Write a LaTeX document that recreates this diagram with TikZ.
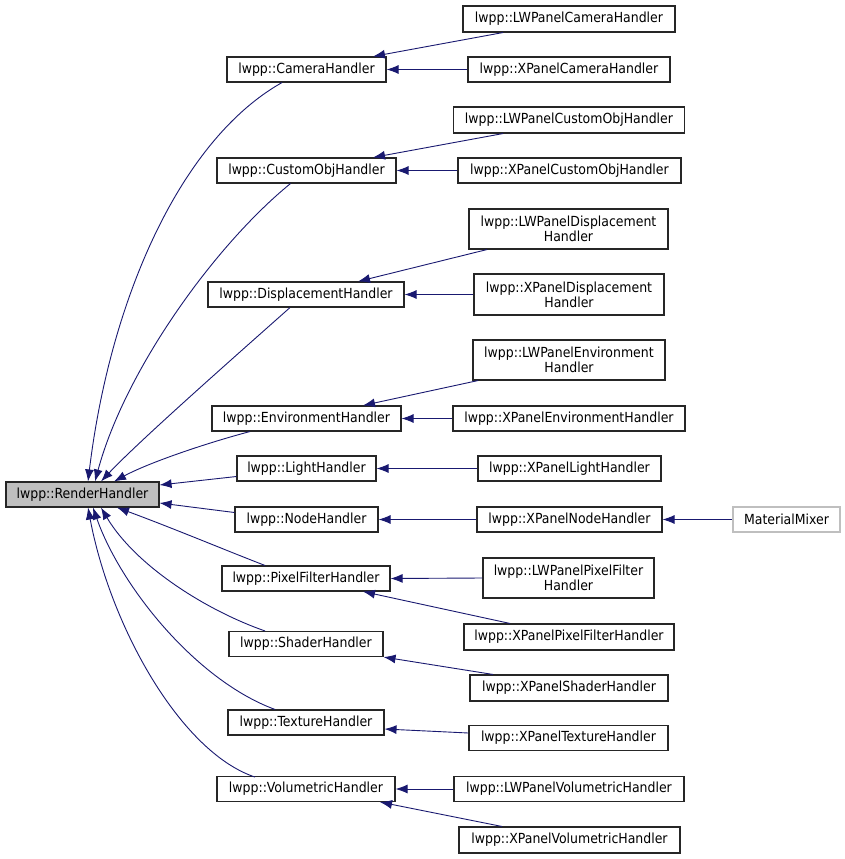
\documentclass[tikz,border=0pt]{standalone}
\usepackage{fontspec}
\setmainfont{DejaVu Sans Condensed}
\usepackage{tikz}
\usetikzlibrary{calc,arrows.meta}
\tikzset{>={Latex[length=12pt,width=9pt]}}
\definecolor{edgeblue}{RGB}{25,25,112}
\definecolor{basegray}{RGB}{191,191,191}

\begin{document}
\begin{tikzpicture}[x=1pt,y=-1pt,
    cls/.style={draw=black!85,line width=1.1pt,rectangle,inner sep=0pt,
      minimum height=25,align=center,font=\fontsize{13.9}{15}\selectfont},
    twoline/.style={cls,minimum height=40},
    edge/.style={<-,draw=edgeblue,line width=0.9pt}]
  \useasboundingbox (0,0) rectangle (845,859);
  % helper grid: comment for final drawing
  % \draw[help lines,step=50] (0,0) grid (845,859);

  % base class
  \node[cls,fill=basegray,minimum width=153] (render) at (82.5,494.5) {lwpp::RenderHandler};

  % middle column
  \node[cls,minimum width=159] (camera)  at (306.5,69.5)  {lwpp::CameraHandler};
  \node[cls,minimum width=179] (custom)  at (306.5,170.5) {lwpp::CustomObjHandler};
  \node[cls,minimum width=196] (disp)    at (306,294.5)   {lwpp::DisplacementHandler};
  \node[cls,minimum width=189] (env)     at (306.5,418.5) {lwpp::EnvironmentHandler};
  \node[cls,minimum width=139] (light)   at (306.5,468.5) {lwpp::LightHandler};
  \node[cls,minimum width=143] (nodeh)   at (306.5,519.5) {lwpp::NodeHandler};
  \node[cls,minimum width=168] (pixel)   at (306,578.5)   {lwpp::PixelFilterHandler};
  \node[cls,minimum width=154] (shader)  at (306,644)     {lwpp::ShaderHandler};
  \node[cls,minimum width=156] (texture) at (306,722.5)   {lwpp::TextureHandler};
  \node[cls,minimum width=178] (vol)     at (306,789)     {lwpp::VolumetricHandler};

  % right column
  \node[cls,minimum width=212,minimum height=26] (lwcamera) at (569,19) {lwpp::LWPanelCameraHandler};
  \node[cls,minimum width=202] (xcamera)  at (569,69.5)  {lwpp::XPanelCameraHandler};
  \node[cls,minimum width=231,minimum height=26] (lwcustom) at (569,120) {lwpp::LWPanelCustomObjHandler};
  \node[cls,minimum width=223] (xcustom)  at (569.5,170.5) {lwpp::XPanelCustomObjHandler};
  \node[twoline,minimum width=199] (lwdisp) at (568.5,229) {lwpp::LWPanelDisplacement\\Handler};
  \node[twoline,minimum width=190,minimum height=41] (xdisp) at (569,294.5) {lwpp::XPanelDisplacement\\Handler};
  \node[twoline,minimum width=192] (lwenv)  at (569,360)   {lwpp::LWPanelEnvironment\\Handler};
  \node[cls,minimum width=232] (xenv)     at (569,418.5) {lwpp::XPanelEnvironmentHandler};
  \node[cls,minimum width=183] (xlight)   at (569.5,468.5) {lwpp::XPanelLightHandler};
  \node[cls,minimum width=185] (xnode)    at (569.5,519.5) {lwpp::XPanelNodeHandler};
  \node[twoline,minimum width=171] (lwpixel) at (568.5,578) {lwpp::LWPanelPixelFilter\\Handler};
  \node[cls,minimum width=210,minimum height=26] (xpixel) at (569,637) {lwpp::XPanelPixelFilterHandler};
  \node[cls,minimum width=198,minimum height=26] (xshader) at (569,688) {lwpp::XPanelShaderHandler};
  \node[cls,minimum width=199] (xtexture) at (568.5,738) {lwpp::XPanelTextureHandler};
  \node[cls,minimum width=230] (lwvol)    at (569,789)   {lwpp::LWPanelVolumetricHandler};
  \node[cls,minimum width=221,minimum height=26] (xvol) at (569.5,840) {lwpp::XPanelVolumetricHandler};

  % leaf
  \node[cls,draw=basegray,minimum width=107] (mixer) at (786.5,519.5) {MaterialMixer};

  % edges to the base class
  \draw[edge] ($(render.north)+(5.5,0)$) .. controls (110,300) and (180,140) .. ($(camera.south)+(-24.5,0)$);
  \draw[edge] ($(render.north)+(12.5,0)$) .. controls (125,370) and (215,245) .. ($(custom.south)+(-16,0)$);
  \draw[edge] ($(render.north)+(18.5,0)$) .. controls (140,440) and (240,352) .. ($(disp.south)+(-16,0)$);
  \draw[edge] ($(render.north)+(31.5,0)$) .. controls (150,462) and (210,442) .. ($(env.south)+(-56.5,0)$);
  \draw[edge] ($(render.east)+(0,-9.5)$) -- ($(light.west)+(0,8)$);
  \draw[edge] ($(render.east)+(0,8.5)$) -- ($(nodeh.west)+(0,-7)$);
  \draw[edge] ($(render.south)+(34.5,0)$) .. controls (170,527) and (230,552) .. ($(pixel.north)+(-41,0)$);
  \draw[edge] ($(render.south)+(18.5,0)$) .. controls (135,565) and (205,610) .. ($(shader.north)+(-41,0)$);
  \draw[edge] ($(render.south)+(10.5,0)$) .. controls (120,585) and (195,680) .. ($(texture.north)+(-31,0)$);
  \draw[edge] ($(render.south)+(5.5,0)$) .. controls (110,625) and (180,752) .. ($(vol.south)+(-51,-25)$);

  % edges to the middle column
  \draw[edge] ($(camera.north)+(66.5,0)$) -- ($(lwcamera.south)+(-66,0)$);
  \draw[edge] (camera.east) -- (xcamera.west);
  \draw[edge] ($(custom.north)+(66.5,0)$) -- ($(lwcustom.south)+(-66,0)$);
  \draw[edge] (custom.east) -- (xcustom.west);
  \draw[edge] ($(disp.north)+(52,0)$) -- ($(lwdisp.south)+(-81.5,0)$);
  \draw[edge] (disp.east) -- (xdisp.west);
  \draw[edge] ($(env.north)+(56.5,0)$) -- ($(lwenv.south)+(-91,0)$);
  \draw[edge] (env.east) -- (xenv.west);
  \draw[edge] (light.east) -- (xlight.west);
  \draw[edge] (nodeh.east) -- (xnode.west);
  \draw[edge] (pixel.east) -- (lwpixel.west);
  \draw[edge] ($(pixel.south)+(57,0)$) -- ($(xpixel.north)+(-59,0)$);
  \draw[edge] (shader.south east) -- ($(xshader.north)+(-76,0)$);
  \draw[edge] ($(texture.east)+(0,6.5)$) -- ($(xtexture.west)+(0,-5)$);
  \draw[edge] (vol.east) -- (lwvol.west);
  \draw[edge] ($(vol.south)+(74,0)$) -- ($(xvol.north)+(-67.5,0)$);

  % subclass of the panel handler
  \draw[edge] (xnode.east) -- (mixer.west);
\end{tikzpicture}
\end{document}
